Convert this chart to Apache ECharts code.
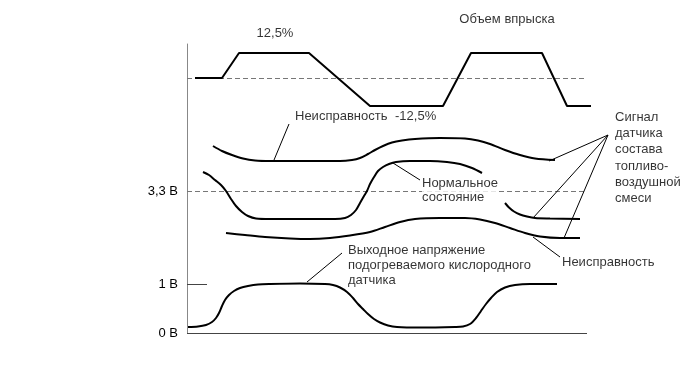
<!DOCTYPE html>
<html>
<head>
<meta charset="utf-8">
<script src="https://cdn.jsdelivr.net/npm/echarts@6/dist/echarts.min.js"></script>
<style>html,body{margin:0;padding:0;background:#fff}#c{width:687px;height:370px}</style>
</head>
<body>
<div id="c"></div>
<script>
// ---- data (x: time units from axis origin, y: signal units above 0 V baseline) ----
var timeAxisEnd = 400;
var injX = [8, 35, 52, 122, 183, 256, 284, 355, 380, 404];
var injY = [255, 255, 280, 280, 227, 227, 280, 280, 227, 227];

var faultUpperX = [26, 35, 45, 56, 68, 83, 113, 153, 165, 173, 181, 188, 196, 205, 215, 228, 253, 278, 291, 303, 318, 333, 348, 368];
var faultUpperY = [187, 182, 178, 174.5, 172.5, 172, 172, 172, 173, 175, 179, 183, 187, 190.5, 192.5, 194, 195, 194.5, 192.5, 189, 183, 178, 174.5, 173];

var normalX = [16, 22, 28, 34, 39, 44, 49, 55, 61, 69, 83, 113, 148, 158, 164, 169, 173, 177, 180, 183, 187, 191, 196, 202, 209, 223, 243, 260, 273, 285, 295];
var normalY = [161, 158, 153, 148, 142, 134, 127, 121, 117, 114.5, 114, 114, 114, 115, 118, 123, 130, 137, 142, 149, 156, 162, 166, 169, 171, 172, 172, 171, 169, 165, 160];

var normalRightX = [318, 322, 327, 333, 340, 348, 363, 393];
var normalRightY = [130, 125.5, 121.5, 118.5, 116.5, 115, 114.5, 114];

var faultLowerX = [39, 58, 78, 103, 123, 143, 163, 183, 198, 213, 228, 253, 278, 293, 308, 323, 338, 353, 373, 393];
var faultLowerY = [100, 98, 96, 94.5, 94, 95, 97.5, 101, 106, 111, 114, 115, 115, 113.5, 110, 105, 100, 96.5, 95, 95];

var o2X = [1, 11, 19, 25, 29, 32, 35, 38, 42, 47, 53, 61, 71, 83, 113, 138, 146, 153, 160, 166, 171, 176, 181, 187, 193, 201, 210, 233, 268, 276, 283, 289, 294, 299, 304, 310, 318, 328, 343, 370];
var o2Y = [6, 6.5, 8, 11, 15, 20, 27, 33, 38, 42, 45, 47, 48.5, 49, 49.5, 49, 48, 45.5, 41, 35, 29, 24, 19, 14, 10.5, 7.5, 6, 5.5, 6, 6.5, 9, 15, 22, 29, 35, 41, 45.5, 48, 49, 49];

var refLevels = [255, 142];          // dashed reference levels (injection 0 %, 3,3 V)
var yTickValues = [0, 49, 142];
var yTickLabels = ['0 В', '1 В', '3,3 В'];

var leaders = [
  [[102, 209], [87, 173]],
  [[206, 170], [233, 153]],
  [[421, 198], [362, 172]],
  [[421, 198], [346, 115]],
  [[421, 198], [377, 95]],
  [[346, 96], [373, 76]],
  [[120, 51], [155, 80]]
];

var notes = [
  { text: '12,5%', x: 88, y: 300, align: 'center' },
  { text: '-12,5%', x: 208, y: 217, align: 'left' },
  { text: 'Объем впрыска', x: 320, y: 314, align: 'center' },
  { text: 'Неисправность', x: 108, y: 217, align: 'left' },
  { text: 'Нормальное\nсостояние', x: 235, y: 143, align: 'left', bg: true },
  { text: 'Сигнал\nдатчика\nсостава\nтопливо-\nвоздушной\nсмеси', x: 428, y: 175, align: 'left' },
  { text: 'Неисправность', x: 375, y: 71, align: 'left' },
  { text: 'Выходное напряжение\nподогреваемого кислородного\nдатчика', x: 161, y: 68, align: 'left' }
];

function zip(a, b) { return a.map(function (v, i) { return [v, b[i]]; }); }

var FONT = '"Liberation Sans", Arial, sans-serif';
var curve = function (xs, ys) {
  return {
    type: 'line', data: zip(xs, ys), smooth: 0.3, symbol: 'none', clip: false,
    lineStyle: { color: '#000', width: 2 }, z: 3, silent: true
  };
};

var series = [];
// reference levels + time axis baseline, drawn beneath the curves
series.push({
  type: 'line', data: [], symbol: 'none', z: 1, zlevel: 0,
  markLine: {
    silent: true, symbol: 'none', label: { show: false }, z: 1,
    data: refLevels.map(function (v) {
      return [{ coord: [0, v], lineStyle: { color: '#777', width: 1, type: [5, 3] } }, { coord: [timeAxisEnd, v] }];
    }).concat([[{ coord: [0, 0], lineStyle: { color: '#444', width: 1, type: 'solid' } }, { coord: [timeAxisEnd, 0] }]])
  }
});
series.push({
  type: 'line', data: zip(injX, injY), symbol: 'none', clip: false,
  lineStyle: { color: '#000', width: 2 }, z: 6, silent: true
});
series.push(curve(faultUpperX, faultUpperY));
series.push(curve(normalX, normalY));
series.push(curve(normalRightX, normalRightY));
series.push(curve(faultLowerX, faultLowerY));
series.push(curve(o2X, o2Y));
leaders.forEach(function (l) {
  series.push({
    type: 'line', data: l, symbol: 'none', clip: false,
    lineStyle: { color: '#000', width: 1 }, z: 4, silent: true
  });
});
series.push({
  type: 'scatter', symbolSize: 0, clip: false, z: 10, silent: true,
  data: notes.map(function (n) {
    return {
      value: [n.x, n.y], name: n.text,
      label: {
        show: true, position: 'inside', formatter: n.text, align: n.align,
        verticalAlign: 'middle', color: '#000', fontSize: 13, fontFamily: FONT,
        lineHeight: n.text.indexOf('Сигнал') === 0 ? 16.3 : (n.text.indexOf('Выходное') === 0 ? 15 : 14),
        backgroundColor: n.bg ? '#fff' : 'transparent'
      }
    };
  })
});

var chart = echarts.init(document.getElementById('c'), null, { renderer: 'canvas' });
chart.setOption({
  animation: false,
  backgroundColor: '#fff',
  grid: { left: 187, right: 0, top: 44, bottom: 37 },
  xAxis: {
    type: 'value', min: 0, max: 500,
    axisLine: { show: false },
    axisTick: { show: false }, axisLabel: { show: false }, splitLine: { show: false }
  },
  yAxis: {
    type: 'value', min: 0, max: 289,
    axisLine: { show: true, onZero: false, lineStyle: { color: '#888', width: 1 } },
    axisTick: { show: true, inside: true, length: 20, customValues: [yTickValues[1]], lineStyle: { color: '#444' } },
    axisLabel: {
      show: true, customValues: yTickValues, margin: 9, color: '#000', fontSize: 13, fontFamily: FONT,
      formatter: function (v) { var i = yTickValues.indexOf(v); return i >= 0 ? yTickLabels[i] : ''; }
    },
    splitLine: { show: false }
  },
  series: series
});
</script>
</body>
</html>
